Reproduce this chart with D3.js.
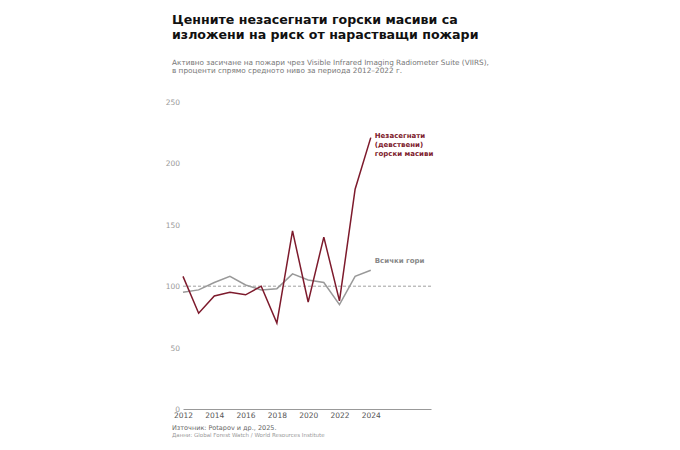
<!DOCTYPE html>
<html>
<head>
    <meta charset="utf-8">
    <title>Незасегнати горски масиви</title>
    <script src="https://cdnjs.cloudflare.com/ajax/libs/d3/7.8.5/d3.min.js"></script>
    <style>
        body {
            margin: 0;
            background: white;
            font-family: "DejaVu Sans", sans-serif;
        }
    </style>
</head>
<body>
    <svg id="chart" width="680" height="450"></svg>

    <script>
        // Данни
        const years = [2012, 2013, 2014, 2015, 2016, 2017, 2018, 2019, 2020, 2021, 2022, 2023, 2024];
        const intactValues = [108, 78, 92, 95, 93, 100, 70, 145, 87, 140, 88, 179, 221];
        const allValues = [95, 97, 103, 108, 101, 97, 98, 110, 105, 103, 85, 108, 113];
        const yTicks = [0, 50, 100, 150, 200, 250];
        const xTicks = [2012, 2014, 2016, 2018, 2020, 2022, 2024];
        const baseline = 100;

        const svg = d3.select("#chart");

        const plot = {left: 183, right: 431, top: 102, bottom: 409};

        const x = d3.scaleLinear()
            .domain([2012, 2027.85])
            .range([plot.left, plot.right]);

        const y = d3.scaleLinear()
            .domain([0, 250])
            .range([plot.bottom, plot.top]);

        // Заглавие
        svg.append("text")
            .attr("x", 172).attr("y", 24)
            .attr("font-size", 12.6).attr("font-weight", "bold").attr("fill", "#111")
            .text("Ценните незасегнати горски масиви са");
        svg.append("text")
            .attr("x", 172).attr("y", 39)
            .attr("font-size", 12.6).attr("font-weight", "bold").attr("fill", "#111")
            .text("изложени на риск от нарастващи пожари");

        svg.append("text")
            .attr("x", 172).attr("y", 65)
            .attr("font-size", 7.3).attr("fill", "#777")
            .text("Активно засичане на пожари чрез Visible Infrared Imaging Radiometer Suite (VIIRS),");
        svg.append("text")
            .attr("x", 172).attr("y", 73)
            .attr("font-size", 7.3).attr("fill", "#777")
            .text("в проценти спрямо средното ниво за периода 2012–2022 г.");

        // Ос Y (само етикети)
        svg.append("g")
            .selectAll("text")
            .data(yTicks)
            .join("text")
            .attr("x", 180)
            .attr("y", d => y(d) + 3)
            .attr("text-anchor", "end")
            .attr("font-size", 7.5)
            .attr("fill", "#999")
            .text(d => d);

        // Ос X
        const xAxis = svg.append("g")
            .attr("transform", `translate(0,${plot.bottom})`)
            .call(d3.axisBottom(x).tickValues(xTicks).tickFormat(d3.format("d")).tickSize(0).tickPadding(4));
        xAxis.select(".domain").attr("stroke", "#999").attr("stroke-width", 1);
        xAxis.selectAll("text")
            .attr("font-family", "DejaVu Sans")
            .attr("font-size", 7.5)
            .attr("fill", "#555");

        // Базова линия 100
        svg.append("line")
            .attr("x1", x(2012)).attr("x2", plot.right)
            .attr("y1", y(baseline)).attr("y2", y(baseline))
            .attr("stroke", "#888")
            .attr("stroke-width", 0.8)
            .attr("stroke-dasharray", "3,2");

        const line = d3.line()
            .x((d, i) => x(years[i]))
            .y(d => y(d));

        svg.append("path")
            .datum(allValues)
            .attr("fill", "none")
            .attr("stroke", "#999")
            .attr("stroke-width", 1.5)
            .attr("d", line);

        svg.append("path")
            .datum(intactValues)
            .attr("fill", "none")
            .attr("stroke", "#7d1a2c")
            .attr("stroke-width", 1.5)
            .attr("d", line);

        // Надписи
        const intactLabel = ["Незасегнати", "(девствени)", "горски масиви"];
        svg.append("g")
            .selectAll("text")
            .data(intactLabel)
            .join("text")
            .attr("x", x(2024) + 4)
            .attr("y", (d, i) => 138 + i * 9)
            .attr("font-size", 7)
            .attr("font-weight", "bold")
            .attr("fill", "#7d1a2c")
            .text(d => d);

        svg.append("text")
            .attr("x", x(2024) + 4)
            .attr("y", 263)
            .attr("font-size", 7)
            .attr("font-weight", "bold")
            .attr("fill", "#888")
            .text("Всички гори");

        // Източник
        svg.append("text")
            .attr("x", 172).attr("y", 430)
            .attr("font-size", 6.5).attr("fill", "#666")
            .text("Източник: Potapov и др., 2025.");
        svg.append("text")
            .attr("x", 172).attr("y", 437)
            .attr("font-size", 5.5).attr("fill", "#999")
            .text("Данни: Global Forest Watch / World Resources Institute");
    </script>
</body>
</html>
